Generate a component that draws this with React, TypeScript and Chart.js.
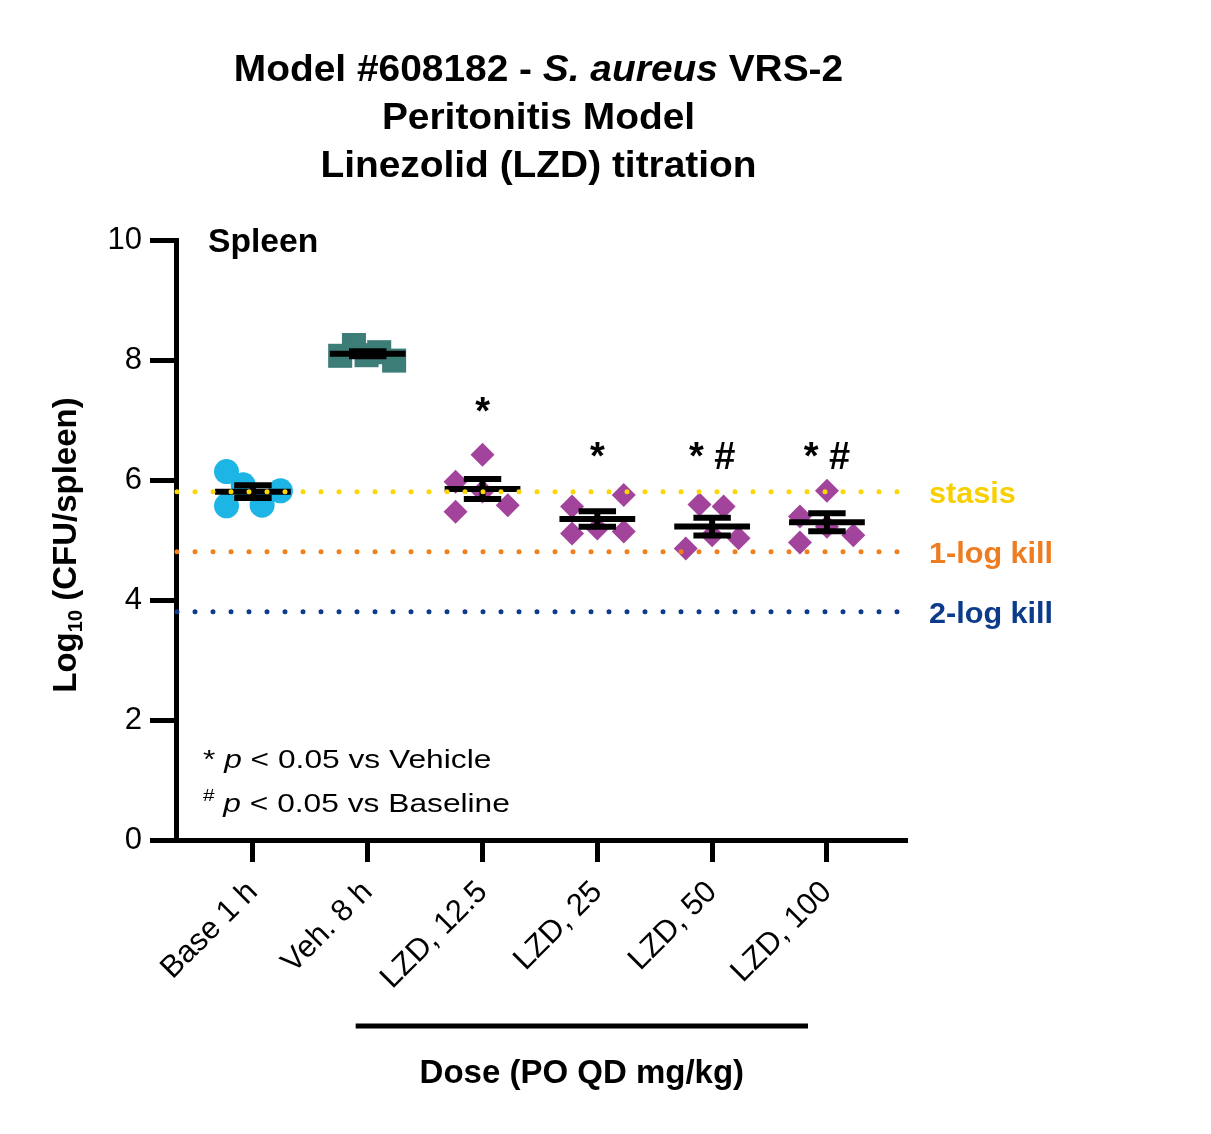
import React, { useEffect, useRef } from 'react';
import { Chart, registerables } from 'chart.js';

Chart.register(...registerables);

// ---------- data ----------
const categories = ['Base 1 h', 'Veh. 8 h', 'LZD, 12.5', 'LZD, 25', 'LZD, 50', 'LZD, 100'];

const baseValues = [6.14, 5.92, 5.82, 5.57, 5.58];
const vehValues = [8.25, 8.07, 8.13, 8.08, 7.99];
const lzd12Values = [6.42, 5.97, 5.81, 5.47, 5.58];
const lzd25Values = [5.56, 5.75, 5.11, 5.19, 5.14];
const lzd50Values = [5.59, 5.56, 4.86, 5.08, 5.03];
const lzd100Values = [5.82, 5.39, 5.22, 4.96, 5.08];

// horizontal scatter of the points inside each column (category units)
const baseJitter = [-0.23, -0.085, 0.24, -0.23, 0.08];
const vehJitter = [-0.12, -0.24, 0.1, -0.01, 0.23];
const lzd12Jitter = [0, -0.235, 0, -0.235, 0.22];
const lzd25Jitter = [-0.22, 0.23, -0.22, 0, 0.23];
const lzd50Jitter = [-0.11, 0.1, -0.23, 0, 0.23];
const lzd100Jitter = [0, -0.235, 0, -0.235, 0.23];

const yTicks = [0, 2, 4, 6, 8, 10];

const sigLabels = ['', '', '*', '*', '* #', '* #'];
const sigLevels = [null, null, 6.93, 6.18, 6.18, 6.18];

const refLabels = ['stasis', '1-log kill', '2-log kill'];
const refLogsBelowBaseline = [0, 1, 2];

// ---------- styles ----------
const FONT = '"Liberation Sans", Arial, Helvetica, sans-serif';
const groups = [baseValues, vehValues, lzd12Values, lzd25Values, lzd50Values, lzd100Values];
const jitters = [baseJitter, vehJitter, lzd12Jitter, lzd25Jitter, lzd50Jitter, lzd100Jitter];
const groupColors = ['#1db4e6', '#3d7d78', '#a3449c', '#a3449c', '#a3449c', '#a3449c'];
const groupStyles = ['circle', 'rect', 'rectRot', 'rectRot', 'rectRot', 'rectRot'];
const groupRadius = [12.5, 17, 12, 12, 12, 12];
const refColors = ['#fcd600', '#f07f1c', '#0c3c8a'];
const refTextColors = ['#f8d000', '#ee7d22', '#0d3b8c'];

const mean = (a: number[]) => a.reduce((s, v) => s + v, 0) / a.length;
const sem = (a: number[]) => {
  const m = mean(a);
  const sd = Math.sqrt(a.reduce((s, v) => s + (v - m) * (v - m), 0) / (a.length - 1));
  return sd / Math.sqrt(a.length);
};

type Seg = { t: string; font: string; dy?: number };
function drawRuns(ctx: CanvasRenderingContext2D, segs: Seg[], x: number, y: number, align: 'left' | 'center', sx = 1) {
  ctx.save();
  ctx.textBaseline = 'alphabetic';
  ctx.textAlign = 'left';
  let w = 0;
  segs.forEach((s) => {
    ctx.font = s.font;
    w += ctx.measureText(s.t).width;
  });
  ctx.translate(x, y);
  ctx.scale(sx, 1);
  let cx = align === 'center' ? -w / 2 : 0;
  segs.forEach((s) => {
    ctx.font = s.font;
    ctx.fillText(s.t, cx, s.dy ?? 0);
    cx += ctx.measureText(s.t).width;
  });
  ctx.restore();
}

const annotatePlugin = {
  id: 'annotate',
  afterDatasetsDraw(chart: any) {
    const { ctx, chartArea } = chart;
    const xs = chart.scales.x;
    const ys = chart.scales.y;
    ctx.save();
    // mean +/- SEM
    ctx.strokeStyle = '#000';
    ctx.lineWidth = 6;
    ctx.lineCap = 'butt';
    groups.forEach((vals, i) => {
      const m = mean(vals);
      const e = sem(vals);
      const cx = xs.getPixelForValue(i);
      const hw = xs.getPixelForValue(i + 0.33) - cx;
      const cw = xs.getPixelForValue(i + 0.163) - cx;
      const ym = ys.getPixelForValue(m);
      const yt = ys.getPixelForValue(m + e);
      const yb = ys.getPixelForValue(m - e);
      ctx.beginPath();
      ctx.moveTo(cx - hw, ym);
      ctx.lineTo(cx + hw, ym);
      ctx.moveTo(cx, yt - 3);
      ctx.lineTo(cx, yb + 3);
      ctx.moveTo(cx - cw, yt);
      ctx.lineTo(cx + cw, yt);
      ctx.moveTo(cx - cw, yb);
      ctx.lineTo(cx + cw, yb);
      ctx.stroke();
    });
    // reference dotted lines
    const baseMean = mean(baseValues);
    refLogsBelowBaseline.forEach((d, i) => {
      const yy = ys.getPixelForValue(baseMean - d);
      ctx.save();
      ctx.strokeStyle = refColors[i];
      ctx.lineWidth = 5;
      ctx.lineCap = 'round';
      ctx.setLineDash([0, 18]);
      ctx.beginPath();
      ctx.moveTo(chartArea.left + 1, yy);
      ctx.lineTo(xs.getPixelForValue(5.64), yy);
      ctx.stroke();
      ctx.restore();
      ctx.fillStyle = refTextColors[i];
      drawRuns(ctx, [{ t: refLabels[i], font: `bold 30px ${FONT}` }], chartArea.right + 24, yy + 11, 'left', 1.02);
    });
    ctx.restore();
  },
  afterDraw(chart: any) {
    const { ctx, chartArea } = chart;
    const xs = chart.scales.x;
    const ys = chart.scales.y;
    ctx.save();
    ctx.fillStyle = '#000';
    const B = `bold 36px ${FONT}`;
    const BI = `italic bold 36px ${FONT}`;
    const tcx = (chartArea.left + chartArea.right) / 2 - 2;
    drawRuns(ctx, [
      { t: 'Model #608182 - ', font: B },
      { t: 'S. aureus', font: BI },
      { t: ' VRS-2', font: B },
    ], tcx, chartArea.top - 159, 'center', 1.08);
    drawRuns(ctx, [{ t: 'Peritonitis Model', font: B }], tcx, chartArea.top - 111, 'center', 1.08);
    drawRuns(ctx, [{ t: 'Linezolid (LZD) titration', font: B }], tcx, chartArea.top - 63, 'center', 1.08);

    // panel label
    drawRuns(ctx, [{ t: 'Spleen', font: `bold 33px ${FONT}` }], chartArea.left + 32, chartArea.top + 12, 'left', 1.02);

    // significance marks
    sigLabels.forEach((s, i) => {
      const lvl = sigLevels[i];
      if (!s || lvl == null) return;
      drawRuns(ctx, [{ t: s, font: `bold 38px ${FONT}` }], xs.getPixelForValue(i), ys.getPixelForValue(lvl), 'center');
    });

    // footnotes
    const R = `26px ${FONT}`;
    const I = `italic 26px ${FONT}`;
    drawRuns(ctx, [
      { t: '* ', font: R },
      { t: 'p', font: I },
      { t: ' < 0.05 vs Vehicle', font: R },
    ], chartArea.left + 27, ys.getPixelForValue(1.2), 'left', 1.22);
    drawRuns(ctx, [
      { t: '#', font: `17px ${FONT}`, dy: -11 },
      { t: ' ', font: R },
      { t: 'p', font: I },
      { t: ' < 0.05 vs Baseline', font: R },
    ], chartArea.left + 27, ys.getPixelForValue(0.47), 'left', 1.22);

    // y axis title
    ctx.save();
    ctx.translate(76, (chartArea.top + chartArea.bottom) / 2 + 5);
    ctx.rotate(-Math.PI / 2);
    drawRuns(ctx, [
      { t: 'Log', font: `bold 33px ${FONT}` },
      { t: '10', font: `bold 20px ${FONT}`, dy: 6 },
      { t: ' (CFU/spleen)', font: `bold 33px ${FONT}` },
    ], 0, 0, 'center');
    ctx.restore();

    // dose bracket + x axis title
    const bx1 = xs.getPixelForValue(0.895);
    const bx2 = xs.getPixelForValue(4.835);
    ctx.strokeStyle = '#000';
    ctx.lineWidth = 5;
    ctx.beginPath();
    ctx.moveTo(bx1, chartArea.bottom + 186);
    ctx.lineTo(bx2, chartArea.bottom + 186);
    ctx.stroke();
    drawRuns(ctx, [{ t: 'Dose (PO QD mg/kg)', font: `bold 33px ${FONT}` }], (bx1 + bx2) / 2, chartArea.bottom + 243, 'center');
    ctx.restore();
  },
};

export default function App() {
  const ref = useRef<HTMLCanvasElement | null>(null);

  useEffect(() => {
    if (!ref.current) return;
    const datasets = groups.map((vals, i) => ({
      label: categories[i],
      data: vals.map((v, k) => ({ x: i + jitters[i][k], y: v })),
      pointStyle: groupStyles[i] as any,
      pointRadius: groupRadius[i],
      pointBackgroundColor: groupColors[i],
      pointBorderWidth: 0,
      pointBorderColor: groupColors[i],
      showLine: false,
    }));
    const chart = new Chart(ref.current, {
      type: 'scatter',
      data: { datasets },
      options: {
        responsive: false,
        animation: false,
        events: [],
        layout: { padding: { left: 0, top: 240, right: 306, bottom: 0 } },
        plugins: {
          legend: { display: false },
          tooltip: { enabled: false },
          title: { display: false },
        },
        scales: {
          x: {
            type: 'linear',
            min: -0.67,
            max: 5.68,
            afterBuildTicks: (s: any) => {
              s.ticks = categories.map((_, i) => ({ value: i }));
            },
            afterFit: (s: any) => {
              s.height = 294;
            },
            ticks: {
              autoSkip: false,
              minRotation: 45,
              maxRotation: 45,
              padding: 12,
              color: '#000',
              font: { family: FONT, size: 31 },
              callback: (v: any) => categories[v as number] ?? '',
            },
            grid: { drawOnChartArea: false, drawTicks: true, tickLength: 22, lineWidth: 5, color: '#000' },
            border: { display: true, color: '#000', width: 5 },
          },
          y: {
            type: 'linear',
            min: 0,
            max: 10,
            afterBuildTicks: (s: any) => {
              s.ticks = yTicks.map((v) => ({ value: v }));
            },
            afterFit: (s: any) => {
              s.width = 176;
            },
            ticks: {
              padding: 8,
              color: '#000',
              font: { family: FONT, size: 31 },
            },
            grid: { drawOnChartArea: false, drawTicks: true, tickLength: 26, lineWidth: 5, color: '#000' },
            border: { display: true, color: '#000', width: 5 },
          },
        },
      },
      plugins: [annotatePlugin],
    });
    return () => chart.destroy();
  }, []);

  return (
    <div style={{ position: 'absolute', left: 0, top: 0, width: 1211, height: 1134, background: '#fff' }}>
      <canvas ref={ref} width={1211} height={1134} style={{ width: 1211, height: 1134 }} />
    </div>
  );
}
